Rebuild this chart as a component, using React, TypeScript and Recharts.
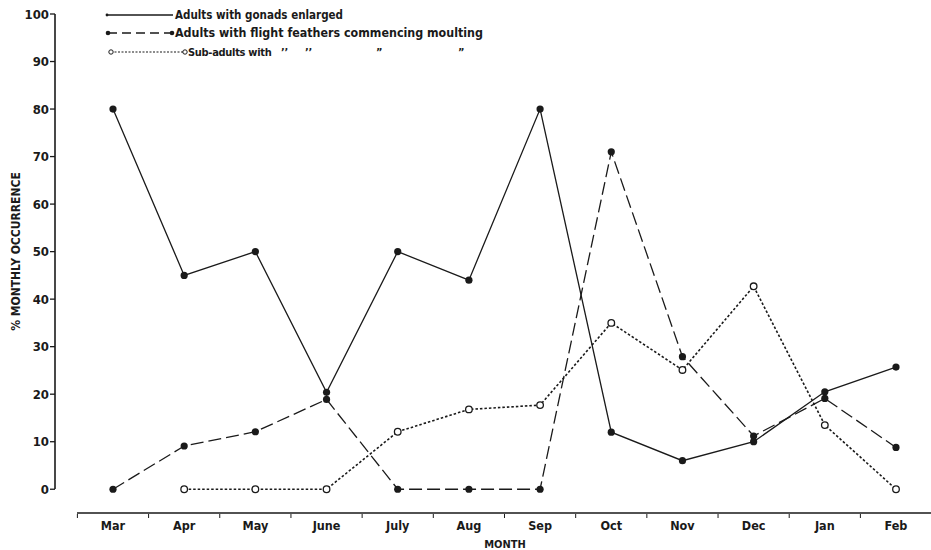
import { LineChart, Line, XAxis, YAxis, Legend } from "recharts";

const months = ["Mar", "Apr", "May", "June", "July", "Aug", "Sep", "Oct", "Nov", "Dec", "Jan", "Feb"];
const gonadsEnlarged = [80, 45, 50, 20.4, 50, 44, 80, 12, 6, 10, 20.5, 25.7];
const flightMoult = [0, 9.1, 12.1, 18.9, 0, 0, 0, 71, 27.9, 11.2, 19.1, 8.8];
const subAdultMoult = [null, 0, 0, 0, 12.1, 16.8, 17.7, 35, 25.1, 42.7, 13.5, 0];
const yTicks = [0, 10, 20, 30, 40, 50, 60, 70, 80, 90, 100];

const data = months.map((m, i) => ({
  month: m,
  gonads: gonadsEnlarged[i],
  moult: flightMoult[i],
  sub: subAdultMoult[i],
}));

const FONT = "'DejaVu Sans Condensed', 'Liberation Sans Narrow', 'DejaVu Sans', sans-serif";
const INK = "#1a1a1a";
const AXIS_Y = 513;

function FilledDot(props: any) {
  const { cx, cy } = props;
  if (cx == null || cy == null) return null;
  return <circle cx={cx} cy={cy} r={3.6} fill={INK} stroke="none" />;
}

function OpenDot(props: any) {
  const { cx, cy } = props;
  if (cx == null || cy == null) return null;
  return <circle cx={cx} cy={cy} r={3.3} fill="#fff" stroke={INK} strokeWidth={1.3} />;
}

function MonthTick(props: any) {
  const { x, payload } = props;
  return (
    <g>
      <line x1={x - 35.6} x2={x - 35.6} y1={AXIS_Y + 1} y2={AXIS_Y + 5} stroke={INK} strokeWidth={1} />
      <text
        x={x}
        y={AXIS_Y + 17}
        textAnchor="middle"
        fontFamily={FONT}
        fontWeight="bold"
        fontSize={12.5}
        style={{ fontStretch: "condensed" }}
        fill={INK}
      >
        {payload.value}
      </text>
    </g>
  );
}

function LegendKey() {
  const textProps = {
    fontFamily: FONT,
    fontWeight: "bold" as const,
    fontSize: 12,
    fill: INK,
  };
  return (
    <svg width={560} height={62}>
      <line x1={107} x2={173} y1={15} y2={15} stroke={INK} strokeWidth={1.3} />
      <circle cx={107} cy={15} r={1.4} fill={INK} />
      <text x={175} y={19} textLength={168} lengthAdjust="spacingAndGlyphs" {...textProps}>
        Adults with gonads enlarged
      </text>

      <line x1={108} x2={172} y1={33} y2={33} stroke={INK} strokeWidth={1.3} strokeDasharray="9 5" />
      <circle cx={108} cy={33} r={2.3} fill={INK} />
      <circle cx={172} cy={33} r={2.3} fill={INK} />
      <text x={175} y={37} textLength={308} lengthAdjust="spacingAndGlyphs" {...textProps}>
        Adults with flight feathers commencing moulting
      </text>

      <line x1={111} x2={184} y1={52} y2={52} stroke={INK} strokeWidth={1.2} strokeDasharray="2 1.5" />
      <circle cx={111} cy={52} r={2.2} fill="#fff" stroke={INK} strokeWidth={1} />
      <circle cx={185} cy={52} r={2.2} fill="#fff" stroke={INK} strokeWidth={1} />
      <text y={56} {...textProps} fontSize={11} letterSpacing={-0.3}>
        <tspan x={188}>Sub-adults with</tspan>
        <tspan x={281}>’’</tspan>
        <tspan x={305}>’’</tspan>
        <tspan x={376}>”</tspan>
        <tspan x={458}>”</tspan>
      </text>
    </svg>
  );
}

export default function App() {
  return (
    <div style={{ position: "absolute", left: 0, top: 0, width: 931, height: 550, background: "#fff" }}>
      <LineChart width={931} height={550} data={data} margin={{ top: 14, right: 0, bottom: 0, left: 0 }}>
        <XAxis
          dataKey="month"
          height={37}
          padding={{ left: 58, right: 35 }}
          axisLine={{ stroke: INK, strokeWidth: 1.6, strokeDasharray: "0 22 2000" }}
          tickLine={false}
          tick={<MonthTick />}
          interval={0}
          label={{
            value: "MONTH",
            position: "insideBottom",
            offset: 2,
            dx: 12,
            fontFamily: FONT,
            fontWeight: "bold",
            fontSize: 11,
            fill: INK,
          }}
        />
        <YAxis
          width={55}
          domain={[-5, 100]}
          ticks={yTicks}
          interval={0}
          axisLine={{ stroke: INK, strokeWidth: 1.6, strokeDasharray: "475 100" }}
          tickLine={{ stroke: INK, strokeWidth: 1.3 }}
          tickSize={5}
          tickMargin={1}
          tick={{ fontFamily: FONT, fontWeight: "bold", fontSize: 13, fill: INK }}
          label={{
            value: "% MONTHLY OCCURRENCE",
            angle: -90,
            position: "insideLeft",
            offset: 16,
            dy: -12,
            fontFamily: FONT,
            fontWeight: "bold",
            fontSize: 12,
            fill: INK,
            style: { textAnchor: "middle" },
          }}
        />
        <Legend
          layout="vertical"
          verticalAlign="middle"
          align="center"
          wrapperStyle={{ position: "absolute", top: 0, left: 0, width: 560, height: 62 }}
          content={() => <LegendKey />}
        />
        <Line
          dataKey="gonads"
          stroke={INK}
          strokeWidth={1.3}
          dot={<FilledDot />}
          activeDot={false}
          isAnimationActive={false}
        />
        <Line
          dataKey="moult"
          stroke={INK}
          strokeWidth={1.3}
          strokeDasharray="13 5"
          dot={<FilledDot />}
          activeDot={false}
          isAnimationActive={false}
        />
        <Line
          dataKey="sub"
          stroke={INK}
          strokeWidth={1.6}
          strokeDasharray="2.5 2"
          dot={<OpenDot />}
          activeDot={false}
          isAnimationActive={false}
        />
      </LineChart>
    </div>
  );
}
